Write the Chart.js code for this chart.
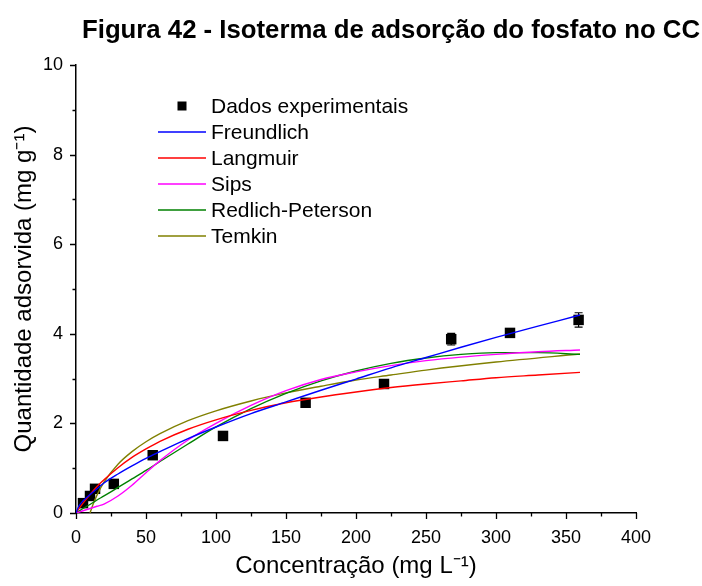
<!DOCTYPE html>
<html><head><meta charset="utf-8">
<script src="https://cdn.jsdelivr.net/npm/chart.js@4.4.1/dist/chart.umd.min.js"></script>
<style>html,body{margin:0;padding:0;background:#fff}</style>
</head><body>
<canvas id="c" width="702" height="586"></canvas>
<script>
// ---- data ----
const titleText = 'Figura 42 - Isoterma de adsorção do fosfato no CC';
const xTitle = 'Concentração (mg L\u207B\u00B9)';
const yTitle = 'Quantidade adsorvida (mg g\u207B\u00B9)';
const xTicks = [0, 50, 100, 150, 200, 250, 300, 350, 400];
const yTicks = [0, 2, 4, 6, 8, 10];
const xMinor = [25, 75, 125, 175, 225, 275, 325, 375];
const yMinor = [1, 3, 5, 7, 9];

const expX = [5, 10, 13.6, 27, 54.8, 105, 164, 220, 268, 310, 359];
const expY = [0.22, 0.38, 0.54, 0.65, 1.29, 1.72, 2.46, 2.88, 3.88, 4.02, 4.31];
const expErr = [0.02, 0.03, 0.03, 0.03, 0.04, 0.05, 0.05, 0.06, 0.13, 0.08, 0.16];

const fitX = [0, 2, 5, 10, 15, 20, 30, 40, 50, 60, 80, 100, 125, 150, 175, 200, 225, 250, 275, 300, 330, 360];
const freundlich = [0, 0.15, 0.27, 0.41, 0.54, 0.67, 0.87, 1.05, 1.22, 1.37, 1.66, 1.92, 2.22, 2.48, 2.74, 2.99, 3.24, 3.47, 3.70, 3.92, 4.17, 4.42];
const langmuir = [0, 0.09, 0.22, 0.41, 0.59, 0.74, 1.01, 1.24, 1.43, 1.60, 1.87, 2.08, 2.29, 2.46, 2.59, 2.70, 2.80, 2.88, 2.95, 3.02, 3.08, 3.14];
const sips = [0, 0.02, 0.05, 0.10, 0.15, 0.20, 0.38, 0.62, 0.90, 1.17, 1.63, 2.00, 2.40, 2.73, 2.98, 3.15, 3.29, 3.40, 3.48, 3.54, 3.60, 3.64];
const redlich = [0, 0.04, 0.10, 0.19, 0.29, 0.38, 0.57, 0.76, 0.95, 1.15, 1.54, 1.92, 2.33, 2.67, 2.95, 3.17, 3.34, 3.46, 3.54, 3.58, 3.58, 3.54];
const temkinX = [10, 12, 15, 20, 30, 40, 50, 60, 80, 100, 125, 150, 175, 200, 225, 250, 300, 360];
const temkin = [0, 0.18, 0.40, 0.69, 1.09, 1.37, 1.59, 1.77, 2.06, 2.28, 2.50, 2.68, 2.83, 2.97, 3.08, 3.19, 3.37, 3.55];

const seriesNames = ['Dados experimentais', 'Freundlich', 'Langmuir', 'Sips', 'Redlich-Peterson', 'Temkin'];
const seriesColors = ['#000000', '#0000ff', '#ff0000', '#ff00ff', '#008000', '#808000'];

// ---- build datasets ----
const pts = (xs, ys) => xs.map((x, i) => ({x: x, y: ys[i]}));
const lineDs = (name, xs, ys, color, order) => ({
  type: 'line', label: name, data: pts(xs, ys), borderColor: color, backgroundColor: color,
  borderWidth: 1.4, pointRadius: 0, fill: false, cubicInterpolationMode: 'monotone', order: order
});

const datasets = [
  {type: 'scatter', label: seriesNames[0], data: pts(expX, expY), pointStyle: 'rect',
   pointRadius: 7.4, pointHoverRadius: 7.4, backgroundColor: '#000', borderColor: '#000', borderWidth: 0, order: 10},
  lineDs(seriesNames[1], fitX, freundlich, seriesColors[1], 1),
  lineDs(seriesNames[2], fitX, langmuir, seriesColors[2], 2),
  lineDs(seriesNames[3], fitX, sips, seriesColors[3], 3),
  lineDs(seriesNames[4], fitX, redlich, seriesColors[4], 4),
  lineDs(seriesNames[5], temkinX, temkin, seriesColors[5], 5)
];

const FONT = "'Liberation Sans', Arial, sans-serif";

const errorBars = {
  id: 'errorBars',
  beforeDatasetsDraw(chart) {
    const ctx = chart.ctx, xs = chart.scales.x, ys = chart.scales.y;
    ctx.save();
    ctx.strokeStyle = '#000'; ctx.lineWidth = 1.2;
    expX.forEach((x, i) => {
      const px = xs.getPixelForValue(x);
      const top = ys.getPixelForValue(expY[i] + expErr[i]);
      const bot = ys.getPixelForValue(expY[i] - expErr[i]);
      ctx.beginPath();
      ctx.moveTo(px, top); ctx.lineTo(px, bot);
      ctx.moveTo(px - 4, top); ctx.lineTo(px + 4, top);
      ctx.moveTo(px - 4, bot); ctx.lineTo(px + 4, bot);
      ctx.stroke();
    });
    ctx.restore();
  }
};

const decorations = {
  id: 'decorations',
  afterDraw(chart) {
    const ctx = chart.ctx, xs = chart.scales.x, ys = chart.scales.y, a = chart.chartArea;
    ctx.save();
    // ticks
    ctx.strokeStyle = '#000'; ctx.lineWidth = 1.3;
    ctx.beginPath();
    xTicks.forEach(v => { const p = Math.round(xs.getPixelForValue(v)) + 0.5; ctx.moveTo(p, a.bottom); ctx.lineTo(p, a.bottom + 6); });
    xMinor.forEach(v => { const p = Math.round(xs.getPixelForValue(v)) + 0.5; ctx.moveTo(p, a.bottom); ctx.lineTo(p, a.bottom + 3.5); });
    yTicks.forEach(v => { const p = Math.round(ys.getPixelForValue(v)) + 0.5; ctx.moveTo(a.left, p); ctx.lineTo(a.left - 6, p); });
    yMinor.forEach(v => { const p = Math.round(ys.getPixelForValue(v)) + 0.5; ctx.moveTo(a.left, p); ctx.lineTo(a.left - 3.5, p); });
    ctx.stroke();

    // title (condensed bold)
    ctx.fillStyle = '#000';
    ctx.font = 'bold 25px ' + FONT;
    ctx.textBaseline = 'alphabetic';
    ctx.textAlign = 'center';
    const w = ctx.measureText(titleText).width;
    const sx = 618 / w;
    ctx.save();
    ctx.translate(391, 38);
    ctx.scale(sx, 1);
    ctx.fillText(titleText, 0, 0);
    ctx.restore();

    // legend
    ctx.font = '21px ' + FONT;
    ctx.textAlign = 'left';
    ctx.textBaseline = 'middle';
    const lx0 = 158, lx1 = 206, tx = 211, y0 = 106, dy = 26;
    ctx.fillRect(182 - 4.5, y0 - 4.5, 9, 9);
    ctx.fillText(seriesNames[0], tx, y0 + 1);
    for (let i = 1; i < seriesNames.length; i++) {
      const yy = y0 + dy * i;
      ctx.strokeStyle = seriesColors[i]; ctx.lineWidth = 1.4;
      ctx.beginPath(); ctx.moveTo(lx0, yy); ctx.lineTo(lx1, yy); ctx.stroke();
      ctx.fillStyle = '#000';
      ctx.fillText(seriesNames[i], tx, yy + 1);
    }
    ctx.restore();
  }
};

new Chart(document.getElementById('c'), {
  data: {datasets: datasets},
  options: {
    responsive: false, animation: false, devicePixelRatio: 1,
    layout: {padding: {top: 65, right: 66, left: 0, bottom: 0}},
    plugins: {legend: {display: false}, title: {display: false}, tooltip: {enabled: false}},
    scales: {
      x: {
        type: 'linear', min: 0, max: 400,
        afterBuildTicks: s => { s.ticks = xTicks.map(v => ({value: v})); },
        afterFit: s => { s.height = 73; },
        grid: {display: false, drawTicks: true, tickLength: 6},
        border: {display: true, color: '#000', width: 1.5},
        ticks: {color: '#000', font: {family: FONT, size: 18}, padding: 8, maxRotation: 0, autoSkip: false},
        title: {display: true, text: xTitle, color: '#000', font: {family: FONT, size: 24}, padding: {top: 0, bottom: 5}}
      },
      y: {
        type: 'linear', min: 0, max: 10,
        afterBuildTicks: s => { s.ticks = yTicks.map(v => ({value: v})); },
        afterFit: s => { s.width = 76; },
        grid: {display: false, drawTicks: true, tickLength: 6},
        border: {display: true, color: '#000', width: 1.5},
        ticks: {color: '#000', font: {family: FONT, size: 18}, padding: 7, autoSkip: false},
        title: {display: true, text: yTitle, color: '#000', font: {family: FONT, size: 24}, padding: {top: 10, bottom: 0}}
      }
    }
  },
  plugins: [errorBars, decorations]
});
</script>
</body></html>
